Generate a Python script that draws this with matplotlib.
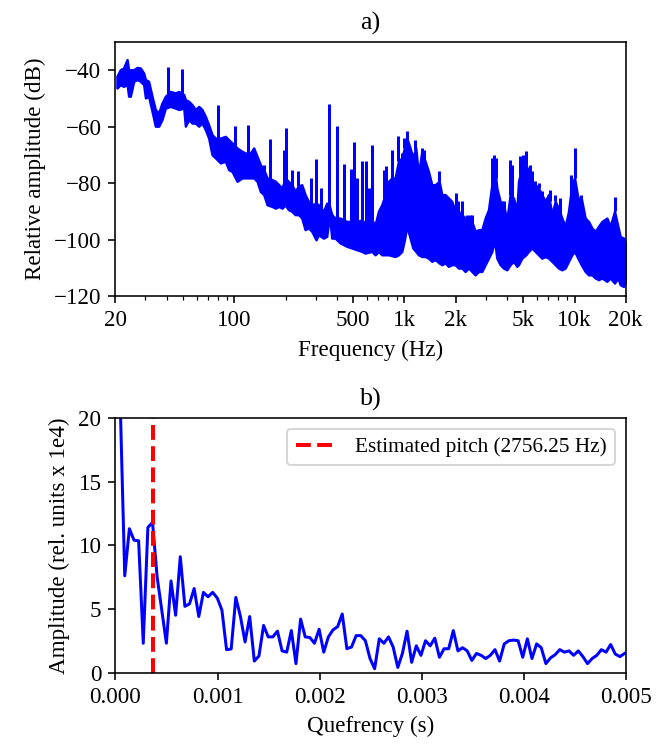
import numpy as np
import matplotlib
matplotlib.use("Agg")
import matplotlib.pyplot as plt

plt.rcParams['font.family'] = 'serif'
plt.rcParams['font.serif'] = ['Liberation Serif', 'DejaVu Serif']
plt.rcParams['font.size'] = 11.5
plt.rcParams['xtick.labelsize'] = 11.5
plt.rcParams['ytick.labelsize'] = 11.5
plt.rcParams['legend.fontsize'] = 10.6

# a) spectrum: solid band (upper / lower edge) + narrow spikes
freq_hz = [20.4, 21.35, 22.3, 23.4, 23.9, 24.45, 25.6, 26.8, 28.0, 29.3, 30.0, 31.3,
           32.8, 34.3, 35.9, 37.5, 39.3, 42.0, 45.0, 47.1, 50.4, 51.5, 53.9, 56.4,
           59.0, 61.7, 64.5, 67.5, 70.6, 73.9, 77.3, 82.8, 88.5, 92.6, 96.9, 103.7,
           111, 116, 124.2, 129.9, 136, 142.2, 148.8, 155.7, 166.6, 174.3, 182.4, 190.7,
           198.7, 207.8, 217.4, 227.5, 238, 249, 260.5, 272.5, 285.1, 302.3, 312, 333.9,
           349.3, 362.1, 373.7, 391, 418.4, 457.9, 524.4, 561.2, 587.1, 642.5, 672.2, 703.2,
           735.7, 770, 806, 842.6, 881.4, 922.2, 964.8, 1000, 1032, 1080, 1120, 1166,
           1209, 1265, 1323, 1384, 1448, 1515, 1600, 1658, 1735, 1815, 1899, 1987,
           2078, 2174, 2275, 2380, 2490, 2605, 2725, 2851, 2983, 3120, 3265, 3384,
           3493, 3654, 3823, 3999, 4184, 4377, 4579, 4684, 4900, 5174, 5364, 5612,
           5871, 6142, 6425, 6722, 7032, 7357, 7696, 8052, 8423, 8812, 9219, 9645,
           10004, 10466, 10949, 11557, 12090, 12648, 13232, 13843, 14482, 15496, 16212, 17190,
           17983, 18560, 19417, 20000]
upper_db = [-42.1, -39.8, -39.2, -36.2, -40.0, -39.8, -39.8, -39.0, -39.2, -41.0, -43.3, -43.9,
            -49.2, -53.9, -55.1, -51.6, -49.2, -47.5, -48.0, -47.5, -48.6, -50.4, -51.0, -52.2,
            -53.9, -52.8, -53.9, -56.3, -59.3, -62.8, -64.0, -64.0, -63.4, -64.6, -65.7, -67.5,
            -68.7, -69.3, -69.3, -67.5, -70.5, -73.4, -75.2, -78.1, -78.7, -79.3, -80.5, -81.7,
            -78.1, -79.3, -80.5, -82.8, -81.0, -80.5, -84.0, -86.4, -87.6, -87.0, -87.6, -89.9,
            -87.0, -88.0, -91.1, -92.3, -92.3, -93.5, -93.5, -93.0, -94.1, -93.0, -94.6, -89.9,
            -87.6, -84.0, -79.3, -78.1, -78.1, -72.2, -71.0, -67.5, -64.0, -67.5, -71.0, -67.5,
            -77.0, -68.7, -72.2, -75.8, -80.5, -80.5, -79.3, -84.0, -84.0, -85.2, -86.4, -89.9,
            -89.9, -91.1, -92.3, -92.3, -93.5, -97.0, -96.4, -96.4, -92.3, -89.3, -80.5, -73.4,
            -81.7, -86.4, -87.6, -92.9, -84.0, -85.2, -89.9, -79.3, -74.6, -73.4, -75.8, -79.3,
            -80.5, -81.7, -84.0, -86.4, -84.0, -91.1, -86.4, -88.8, -92.3, -95.2, -89.9, -80.5,
            -78.1, -85.2, -85.2, -92.3, -93.5, -95.8, -97.0, -95.2, -93.5, -92.3, -95.2, -89.9,
            -95.2, -98.8, -99.4, -101.1]
lower_db = [-46.3, -45.1, -45.7, -45.1, -49.2, -49.2, -43.9, -43.3, -43.9, -45.1, -49.8, -49.2,
            -54.5, -59.8, -59.8, -57.5, -53.4, -52.8, -53.4, -53.9, -53.4, -59.8, -57.5, -58.7,
            -58.7, -59.8, -58.7, -61.0, -64.0, -69.9, -71.0, -72.8, -72.2, -75.2, -75.8, -79.3,
            -78.1, -78.1, -78.1, -78.1, -79.3, -82.9, -84.0, -87.6, -88.2, -88.8, -88.2, -88.8,
            -87.6, -89.3, -89.9, -91.1, -91.1, -92.3, -96.4, -95.8, -97.0, -100.0, -98.2, -99.4,
            -98.8, -91.1, -99.4, -99.4, -101.1, -102.3, -103.5, -104.1, -104.7, -104.1, -105.3, -104.1,
            -105.3, -105.3, -105.3, -105.6, -105.9, -105.3, -104.1, -100.0, -95.2, -99.4, -102.9, -104.1,
            -105.3, -105.9, -105.9, -106.5, -107.6, -107.0, -108.2, -108.8, -108.2, -109.4, -108.8, -108.8,
            -110.0, -110.0, -111.2, -110.0, -111.2, -112.4, -111.2, -111.2, -108.8, -106.5, -104.1, -100.0,
            -106.5, -108.8, -110.0, -110.6, -108.8, -107.6, -109.4, -108.8, -106.5, -105.3, -104.1, -102.9,
            -104.1, -105.3, -106.5, -105.9, -106.5, -107.6, -108.8, -110.0, -110.6, -110.0, -107.6, -105.3,
            -104.1, -106.5, -108.8, -111.2, -112.4, -112.4, -113.5, -114.1, -113.5, -114.7, -113.5, -115.3,
            -113.5, -115.9, -116.5, -114.7]

spike_hz = [40.5, 49.0, 80.5, 101.4, 120.3, 150.2, 161.4, 195.1, 201.4, 219.4, 238, 282.5,
            302.3, 323.5, 362.1, 401.7, 441.7, 483.4, 503.5, 524.4, 561.2, 595.1, 619.8, 642.5,
            759.3, 780.3, 842.6, 922.2, 964.8, 1000, 1042, 1156, 1265, 1311, 1600, 2014,
            2078, 2194, 2327, 2434, 2513, 3265, 3354, 3446, 3738, 3875, 4184, 4309,
            4780, 5001, 5174, 5486, 5662, 5871, 6142, 6483, 7128, 7696, 8272, 9473,
            10004, 10949, 17190]
spike_db = [-38.95, -39.4, -52.2, -59.6, -59.25, -73.4, -64.3, -68.1, -60.4, -75.2, -75.5, -78.1,
            -71.3, -81.7, -51.9, -59.8, -73.2, -75.0, -65.4, -78.1, -72.0, -72.0, -81.7, -66.3,
            -75.4, -73.8, -68.3, -63.4, -69.3, -64.0, -61.4, -64.6, -67.5, -68.1, -75.8, -83.4,
            -86.4, -86.4, -91.1, -91.1, -91.1, -71.0, -69.9, -71.0, -86.4, -86.4, -71.6, -73.4,
            -70.5, -69.9, -68.7, -73.4, -75.8, -79.3, -79.9, -82.85, -82.3, -84.0, -85.2, -76.95,
            -67.5, -84.0, -85.0]

freq_ticks = [20, 100, 500, 1000, 2000, 5000, 10000, 20000]
freq_labels = ['20', '100', '500', '1k', '2k', '5k', '10k', '20k']

# b) cepstrum, one value per sample (fs = 22050 Hz)
cepstrum = [60.0, 21.5, 7.6, 11.3, 10.4, 10.35, 2.3, 11.4, 11.8, 7.5, 4.9, 2.3,
            7.2, 4.5, 9.1, 5.2, 5.4, 6.6, 4.4, 6.3, 5.95, 6.3, 5.85, 4.9,
            1.8, 1.85, 5.9, 4.4, 2.4, 4.4, 0.9, 1.3, 3.7, 2.8, 2.8, 3.25,
            1.7, 1.6, 3.3, 0.7, 4.2, 2.8, 2.75, 2.3, 3.4, 1.6, 2.8, 3.35,
            3.6, 4.6, 1.87, 2.0, 2.9, 2.9, 2.5, 1.1, 0.3, 2.65, 2.3, 2.8,
            2.0, 0.4, 1.5, 3.25, 0.8, 2.1, 1.35, 2.5, 2.1, 2.7, 1.2, 1.87,
            1.87, 3.3, 1.7, 1.95, 1.7, 0.95, 1.5, 1.35, 1.1, 1.35, 1.8, 0.9,
            2.25, 2.5, 2.55, 2.5, 1.2, 2.65, 1.1, 2.25, 1.95, 0.7, 1.15, 1.4,
            1.8, 1.6, 1.7, 1.35, 1.7, 1.25, 0.7, 1.1, 1.35, 1.8, 1.6, 2.2,
            1.45, 1.25, 1.5]
fs = 22050
pitch_hz = 2756.25

quefrency = np.arange(len(cepstrum)) / fs

fig = plt.figure(figsize=(666 / 144, 747 / 144), dpi=144)
ax1 = fig.add_axes([0.1734, 0.6033, 0.7661, 0.3405])
ax2 = fig.add_axes([0.1734, 0.0997, 0.7661, 0.3407])

# top: spectrum
ax1.fill_between(freq_hz, lower_db, upper_db, color='blue', lw=1.2, edgecolor='blue')
base = np.interp(spike_hz, freq_hz, upper_db)
ax1.vlines(spike_hz, base, spike_db, color='blue', lw=1.5)
ax1.set_xscale('log')
ax1.set_xlim(20, 20000)
ax1.set_ylim(-120, -30)
ax1.set_xticks(freq_ticks)
ax1.set_xticklabels(freq_labels)
ax1.set_title('a)', fontsize=13)
ax1.set_xlabel('Frequency (Hz)')
ax1.set_ylabel('Relative amplitude (dB)')

# bottom: cepstrum
ax2.plot(quefrency, cepstrum, color='blue', lw=1.5)
ax2.axvline(1 / pitch_hz, color='red', ls='--', lw=2,
            label='Estimated pitch (%.2f Hz)' % pitch_hz)
ax2.set_xlim(0, 0.005)
ax2.set_ylim(0, 20)
ax2.set_xticks([0, 0.001, 0.002, 0.003, 0.004, 0.005])
ax2.set_xticklabels(['%.3f' % t for t in [0, 0.001, 0.002, 0.003, 0.004, 0.005]])
ax2.set_title('b)', fontsize=13)
ax2.set_xlabel('Quefrency (s)')
ax2.set_ylabel('Amplitude (rel. units x 1e4)')
ax2.legend(loc='upper right')

fig.savefig('out.png', dpi=144)
